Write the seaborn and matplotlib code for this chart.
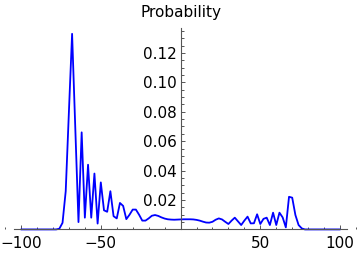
import numpy as np
import pandas as pd
import matplotlib
matplotlib.use("Agg")
import matplotlib.pyplot as plt
import seaborn as sns
from matplotlib.ticker import MultipleLocator, FixedLocator

# Positions (even sites) et probabilites
positions = list(range(-100, 101, 2))

prob_gauche_zero = [0.0] * 12  # -100 .. -78
prob_gauche = [
    0.0005, 0.0045, 0.026, 0.080, 0.133, 0.069, 0.005, 0.066, 0.008, 0.044,   # -76 .. -58
    0.008, 0.038, 0.004, 0.032, 0.013, 0.012, 0.026, 0.009, 0.0075, 0.018,     # -56 .. -38
    0.016, 0.007, 0.010, 0.0135, 0.0135, 0.010, 0.006, 0.006, 0.0075, 0.0093,  # -36 .. -18
    0.0098, 0.0092, 0.0082, 0.0074, 0.0069, 0.0067, 0.0066, 0.0067,            # -16 .. -2
]
prob_centre = [0.0068]  # 0
prob_droite = [
    0.0069, 0.0069, 0.0069, 0.0068, 0.0065, 0.006, 0.0053, 0.0047, 0.0046, 0.0052,  # 2 .. 20
    0.0066, 0.0075, 0.0068, 0.0052, 0.0037, 0.006, 0.008, 0.0055, 0.003, 0.006,     # 22 .. 40
    0.0087, 0.0041, 0.0042, 0.0103, 0.0037, 0.0072, 0.008, 0.003, 0.0114, 0.003,    # 42 .. 60
    0.0114, 0.0082, 0.0014, 0.0222, 0.0216, 0.0098, 0.003, 0.0007,                  # 62 .. 76
]
prob_droite_zero = [0.0] * 12  # 78 .. 100

probabilites = prob_gauche_zero + prob_gauche + prob_centre + prob_droite + prob_droite_zero

df = pd.DataFrame({"x": positions, "p": probabilites})

sns.set_style("white")
plt.rcParams["font.family"] = ["DejaVu Sans"]

fig = plt.figure(figsize=(3.6, 2.54), dpi=100)
ax = fig.add_axes([0, 0, 1, 1])

sns.lineplot(data=df, x="x", y="p", ax=ax, color="#0000ff", linewidth=1.3)

ax.set_xlim(-113.2, 112.5)
ax.set_ylim(-0.0167, 0.156)
ax.set_xlabel("")
ax.set_ylabel("")

axe_gris = "#555555"
for cote in ["top", "right"]:
    ax.spines[cote].set_visible(False)
ax.spines["left"].set_position(("data", 0))
ax.spines["bottom"].set_position(("data", 0))
ax.spines["left"].set_bounds(0, 0.137)
ax.spines["bottom"].set_bounds(-104.4, 104.2)
for cote in ["left", "bottom"]:
    ax.spines[cote].set_color(axe_gris)
    ax.spines[cote].set_linewidth(0.8)

ax.xaxis.set_major_locator(FixedLocator([-100, -50, 50, 100]))
ax.xaxis.set_minor_locator(MultipleLocator(10))
ax.yaxis.set_major_locator(FixedLocator([0.02, 0.04, 0.06, 0.08, 0.10, 0.12]))
ax.yaxis.set_minor_locator(FixedLocator(np.arange(0.005, 0.136, 0.005)))
ax.set_yticklabels(["0.02", "0.04", "0.06", "0.08", "0.10", "0.12"])

ax.tick_params(which="both", direction="in", color=axe_gris, width=0.7,
               bottom=True, left=True, labelsize=11, labelcolor="black")
ax.tick_params(which="major", length=3)
ax.tick_params(which="minor", length=1.8)
ax.tick_params(axis="x", pad=4.5)
ax.tick_params(axis="y", pad=2.7)

fig.text(0.503, 1 - 16.7 / 254, "Probability", ha="center", va="baseline",
         fontsize=11, color="black")

fig.savefig("out.png", dpi=100)
